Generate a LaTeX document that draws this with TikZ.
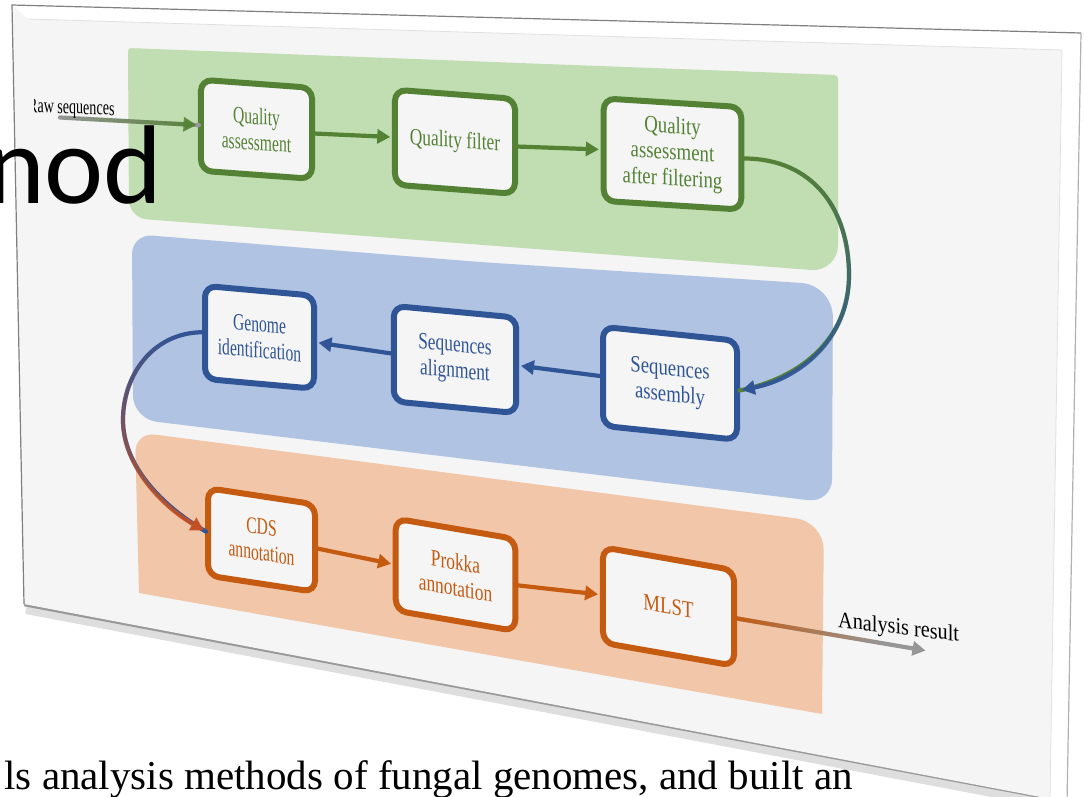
\documentclass[tikz,border=0pt]{standalone}
\usepackage{fontspec}
\setmainfont{Liberation Serif}
\newfontfamily\titlefont{Carlito}
\usetikzlibrary{arrows.meta,fadings,calc}

\definecolor{gfill}{RGB}{193,221,178}
\definecolor{gline}{RGB}{84,130,53}
\definecolor{bfill}{RGB}{176,195,226}
\definecolor{bline}{RGB}{47,85,151}
\definecolor{ofill}{RGB}{242,198,168}
\definecolor{oline}{RGB}{197,90,17}
\definecolor{rline}{RGB}{195,80,35}
\definecolor{slidebg}{RGB}{245,245,245}
\definecolor{arrowgray}{RGB}{150,150,150}

% opaque at the bottom, transparent at the top
\tikzfading[name=fadeup, top color=transparent!100, bottom color=transparent!0]
% opaque at the right, transparent at the left
\tikzfading[name=fadeleft, left color=transparent!100, right color=transparent!0]

\begin{document}
\begin{tikzpicture}[x=1pt,y=-1pt,
  box/.style={rectangle, draw, line width=6pt, rounded corners=11pt, fill=slidebg,
    inner sep=0pt, align=center, transform shape,
    font=\fontsize{23.5}{26}\selectfont},
  lcol/.style={xscale=0.665},
  mcol/.style={xscale=0.74},
  rcol/.style={xscale=0.80},
  gbox/.style={box, draw=gline, text=gline},
  bbox/.style={box, draw=bline, text=bline},
  obox/.style={box, draw=oline, text=oline},
  flow/.style={line width=4.2pt, shorten >=2.5pt, -{Triangle[length=13pt,width=14pt]}},
  wire/.style={line width=4.2pt, line cap=round},
]
\useasboundingbox (0,0) rectangle (1084,796);
\clip (0,0) rectangle (1084,796);
\fill[white] (0,0) rectangle (1084,796);

% slide plate: shadow, face, bevel and edges
\draw[line width=8pt, black!13] (26,610) -- (1066,807);
\draw[line width=2.5pt, black!40] (24,605) -- (1067,802);
\fill[slidebg] (12,5) -- (1081,33) -- (1067,802) -- (24,604) -- cycle;
\fill[white] (12,5) -- (1081,33) -- (1062,50) -- (28,19) -- cycle;
\fill[white] (1081,33) -- (1067,802) -- (1050,798) -- (1062,50) -- cycle;
\draw[black!12, line width=0.8pt] (28,19) -- (1062,50) -- (1050,798);
\draw[black!50, line width=1.2pt] (24,604) -- (12,5) -- (1081,33);
\draw[black!30, line width=1.2pt] (1081,33) -- (1067,802);

% stage panels
\fill[gfill] (480,61.5) [rounded corners=4pt] -- (838,75) [rounded corners=27pt] -- (838,272)
  [rounded corners=18pt] -- (129,218) [rounded corners=3pt] -- (128,48) -- cycle;
\fill[bfill] (480,262) [rounded corners=32pt] -- (833,285) [rounded corners=24pt] -- (832,503)
  [rounded corners=24pt] -- (133,419) [rounded corners=20pt] -- (132,234) -- cycle;
\fill[ofill] (480,477) [rounded corners=28pt] -- (824,522) [sharp corners] -- (822,714)
  -- (139,593) [rounded corners=20pt] -- (135,432) -- cycle;

% processing steps
\node[gbox, yslant=-0.073, lcol, minimum width=167pt, minimum height=91pt] (b1) at (256.5,129.3) {Quality\\assessment};
\node[gbox, yslant=-0.076, mcol, minimum width=162.2pt, minimum height=95pt] (b2) at (455,141.8) {Quality filter};
\node[gbox, yslant=-0.063, rcol, minimum width=171.9pt, minimum height=102.5pt] (b3) at (672.5,154) {Quality\\assessment\\after filtering};
\node[bbox, yslant=-0.09, lcol, minimum width=163.9pt, minimum height=93pt] (b4) at (259.5,337.3) {Genome\\identification};
\node[bbox, yslant=-0.095, mcol, minimum width=165.5pt, minimum height=95.5pt] (b5) at (455,359.5) {Sequences\\alignment};
\node[bbox, yslant=-0.104, rcol, minimum width=167.5pt, minimum height=99pt] (b6) at (670,383.3) {Sequences\\assembly};
\node[obox, yslant=-0.152, lcol, minimum width=160.9pt, minimum height=87.5pt] (b7) at (261.5,540) {CDS\\annotation};
\node[obox, yslant=-0.17, mcol, minimum width=161.5pt, minimum height=92pt] (b8) at (455.5,574.8) {Prokka\\annotation};
\node[obox, yslant=-0.175, rcol, minimum width=163.8pt, minimum height=95.5pt] (b9) at (668.5,606.5) {MLST};

% straight connectors
\draw[flow, gline] (b1.east) -- (b2.west);
\draw[flow, gline] (b2.east) -- (b3.west);
\draw[flow, bline] (b6.west) -- (b5.east);
\draw[flow, bline] (b5.west) -- (b4.east);
\draw[flow, oline] (b7.east) -- (b8.west);
\draw[flow, oline] (b8.east) -- (b9.west);

% input and output
\coordinate (rawin) at (60,117.5);
\coordinate (out) at (928,651);
\draw[wire, arrowgray] (rawin) -- (b1.west);
\draw[flow, gline, path fading=fadeleft] (rawin) -- (b1.west);
\draw[flow, arrowgray] (b9.east) -- (out);
\draw[wire, oline, path fading=east] (b9.east) -- ($(b9.east)!0.75!(out)$);

% stage-to-stage curves
\coordinate (turnR) at (849,275);
\coordinate (turnL) at (123,420);
\draw[wire, gline] (b3.east) .. controls +(70,0) and +(0,-65) .. (turnR)
  .. controls +(0,65) and +(60,-12) .. (b6.east);
\draw[flow, bline, path fading=fadeup] (b3.east) .. controls +(70,0) and +(0,-65) .. (turnR)
  .. controls +(0,65) and +(60,-12) .. (b6.east);
\draw[wire, bline] (b4.west) .. controls +(-50,0) and +(0,-45) .. (turnL)
  .. controls +(0,45) and +(-45,-26) .. (b7.west);
\draw[flow, rline, path fading=fadeup] (b4.west) .. controls +(-50,0) and +(0,-45) .. (turnL)
  .. controls +(0,45) and +(-45,-26) .. (b7.west);

% labels
\begin{scope}
  \clip (34,80) rectangle (200,140);
  \node[anchor=base west, inner sep=0pt, transform shape, yslant=-0.04, xscale=0.67,
    font=\fontsize{21}{21}\selectfont] (rawlbl) at (28,112) {Raw sequences};
\end{scope}
\node[anchor=base west, inner sep=0pt, transform shape, yslant=-0.12, xscale=0.88,
  font=\fontsize{23}{23}\selectfont] (reslbl) at (838,627) {Analysis result};

% slide text around the figure
\node[anchor=base east, inner sep=0pt, font=\titlefont\fontsize{112}{112}\selectfont] (title) at (163,203) {nod};
\node[anchor=base east, inner sep=0pt, font=\fontsize{41}{41}\selectfont] (caption) at (853,789)
  {ls analysis methods of fungal genomes, and built an};
\end{tikzpicture}
\end{document}
